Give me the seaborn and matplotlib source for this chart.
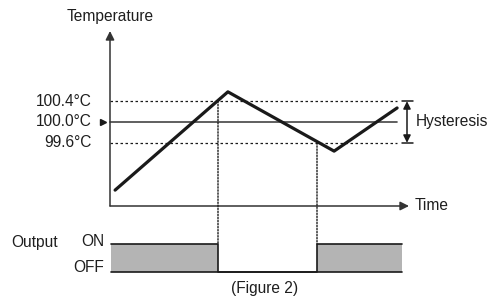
import numpy as np
import pandas as pd
import matplotlib
matplotlib.use("Agg")
import matplotlib.pyplot as plt
import seaborn as sns
from matplotlib.patches import ConnectionPatch

# ---- data ----
time_pts = [1.7, 39.3, 74.7, 95.7]          # time (arbitrary units)
temp_pts = [98.69, 100.58, 99.44, 100.27]   # temperature (°C)
setpoint = 100.0
hyst_hi = 100.4
hyst_lo = 99.6
tick_values = [100.4, 100.0, 99.6]
tick_labels = ["100.4°C", "100.0°C", "99.6°C"]
out_times = [0.3, 36.0, 69.0, 97.3]
out_states = [1, 0, 1, 1]
state_labels = ["OFF", "ON"]

sns.set_theme(style="white")
plt.rcParams['font.family'] = ['Liberation Sans', 'DejaVu Sans']
FS = 11.2
TXT = '#1e1e1e'

W, H = 498, 298
fig = plt.figure(figsize=(W / 100, H / 100), dpi=100)

# layout mapping (pixels -> data units)
x0_px, px_per_t = 110, 3.0
yc_px, px_per_deg = 122, 52.0
on_px, off_px = 244, 272
px_per_state = off_px - on_px


def tx(px):
    return (px - x0_px) / px_per_t


def ty(py):
    return setpoint + (yc_px - py) / px_per_deg


def sy(py):
    return (off_px - py) / px_per_state


ax = fig.add_axes([0, 0, 1, 1])
ax.set_xlim(tx(0), tx(W))
ax.set_ylim(ty(H), ty(0))
ax.axis('off')

ax2 = fig.add_axes([0, 0, 1, 1])
ax2.set_xlim(tx(0), tx(W))
ax2.set_ylim(sy(H), sy(0))
ax2.axis('off')
ax2.patch.set_alpha(0)

T_floor = ty(206)
T_top = ty(31)
axis_col = '#333333'

# axes with arrows
ax.annotate('', xy=(0, T_top), xytext=(0, T_floor),
            arrowprops=dict(arrowstyle='-|>', color=axis_col, lw=1.1,
                            mutation_scale=13, shrinkA=0, shrinkB=0))
ax.annotate('', xy=(tx(409), T_floor), xytext=(0, T_floor),
            arrowprops=dict(arrowstyle='-|>', color=axis_col, lw=1.1,
                            mutation_scale=13, shrinkA=0, shrinkB=0))

# reference lines
line_end = tx(397)
for v in (hyst_hi, hyst_lo):
    ax.plot([0, line_end], [v, v], ls=(0, (2, 2)), color='k', lw=0.9)
ax.plot([0, line_end], [setpoint, setpoint], color='#444444', lw=1.2)

# temperature curve
sns.lineplot(x=time_pts, y=temp_pts, ax=ax, color='k', lw=2.3, sort=False)

# tick labels
for v, lab in zip(tick_values, tick_labels):
    ax.text(tx(92), v, lab, ha='right', va='center', fontsize=FS, color=TXT)
ax.plot([tx(103)], [setpoint], marker='>', color='k', markersize=4, lw=0)

ax.text(0, ty(17), "Temperature", ha='center', va='center', fontsize=FS, color=TXT)
ax.text(tx(415), T_floor, "Time", ha='left', va='center', fontsize=FS, color=TXT)

# hysteresis arrow
ha_x = tx(407)
ax.annotate('', xy=(ha_x, hyst_hi), xytext=(ha_x, hyst_lo),
            arrowprops=dict(arrowstyle='<|-|>', color='k', lw=1.1,
                            mutation_scale=11, shrinkA=0, shrinkB=0))
for v in (hyst_hi, hyst_lo):
    ax.plot([tx(402), tx(413)], [v, v], color='k', lw=1.1)
ax.text(tx(416), setpoint, "Hysteresis", ha='left', va='center', fontsize=FS, color=TXT)

# output
ax2.fill_between(out_times, out_states, 0, step='post', color='#b4b4b4', lw=0)
sns.lineplot(x=out_times, y=out_states, ax=ax2, color='k', lw=1.2,
             drawstyle='steps-post', sort=False)
ax2.plot([out_times[0], out_times[-1]], [0, 0], color='k', lw=1.2)

ax2.text(tx(11), sy(243), "Output", ha='left', va='center', fontsize=FS, color=TXT)
ax2.text(tx(104), sy(242), state_labels[1], ha='right', va='center', fontsize=FS, color=TXT)
ax2.text(tx(104), sy(267), state_labels[0], ha='right', va='center', fontsize=FS, color=TXT)
ax2.text(tx(265), sy(288), "(Figure 2)", ha='center', va='center', fontsize=FS, color=TXT)

# dotted switching guides
for t_sw, thr in ((out_times[1], hyst_hi), (out_times[2], hyst_lo)):
    cp = ConnectionPatch(xyA=(t_sw, thr), coordsA=ax.transData,
                         xyB=(t_sw, 1), coordsB=ax2.transData,
                         ls=(0, (1, 1.2)), color='k', lw=1.0)
    fig.add_artist(cp)

fig.savefig("out.png", dpi=100)
